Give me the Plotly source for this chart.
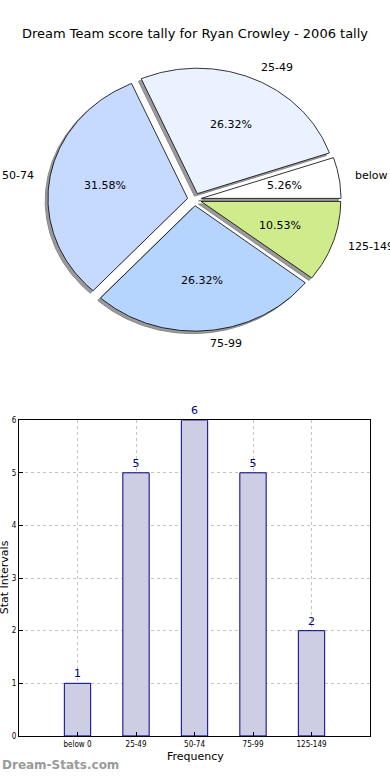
import numpy as np
import plotly.graph_objects as go

# ---- data ----
categories = ["below 0", "25-49", "50-74", "75-99", "125-149"]
counts = [1, 5, 6, 5, 2]
pie_colors = ["#FFFFFF", "#EBF2FF", "#C6D9FF", "#B5D5FF", "#CFEB8B"]
y_ticks = [0, 1, 2, 3, 4, 5, 6]
title_text = "Dream Team score tally for Ryan Crowley - 2006 tally"

W, H = 390, 780
FONT = "DejaVu Sans"


def fx(px):
    return px / W


def fy(py):
    return 1 - py / H


fig = go.Figure()

# ---- pie (elliptical, drawn on its own axes) ----
total = sum(counts)
explode = 0.05
shadow_off = (-0.02, -0.02)
theta = 0.0
wedges = []
for cat, c, col in zip(categories, counts, pie_colors):
    t1 = theta
    t2 = theta + 360.0 * c / total
    theta = t2
    mid = np.deg2rad((t1 + t2) / 2)
    ox, oy = explode * np.cos(mid), explode * np.sin(mid)
    angs = np.deg2rad(np.linspace(t1, t2, 120))
    xs = np.concatenate([[ox], ox + np.cos(angs), [ox]])
    ys = np.concatenate([[oy], oy + np.sin(angs), [oy]])
    wedges.append((cat, c, col, mid, ox, oy, xs, ys))

for cat, c, col, mid, ox, oy, xs, ys in wedges:
    fig.add_trace(go.Scatter(
        x=xs + shadow_off[0], y=ys + shadow_off[1], mode="lines", fill="toself",
        fillcolor="#9a9a9a", line=dict(color="#8a8a8a", width=1),
        xaxis="x2", yaxis="y2", hoverinfo="skip", showlegend=False))

for cat, c, col, mid, ox, oy, xs, ys in wedges:
    fig.add_trace(go.Scatter(
        x=xs, y=ys, mode="lines", fill="toself", fillcolor=col,
        line=dict(color="#000000", width=0.8), name=cat,
        xaxis="x2", yaxis="y2", showlegend=False))

annotations = []
for cat, c, col, mid, ox, oy, xs, ys in wedges:
    pct = 100.0 * c / total
    annotations.append(dict(
        x=ox + 0.6 * np.cos(mid), y=oy + 0.6 * np.sin(mid), xref="x2", yref="y2",
        text=f"{pct:.2f}%", showarrow=False, xanchor="center", yanchor="middle",
        font=dict(family=FONT, size=11, color="#000000")))
    lx = ox + 1.1 * np.cos(mid)
    ly = oy + 1.1 * np.sin(mid)
    annotations.append(dict(
        x=lx, y=ly, xref="x2", yref="y2", text=cat, showarrow=False,
        xanchor="left" if np.cos(mid) > 0 else "right", yanchor="middle",
        font=dict(family=FONT, size=11, color="#000000")))

# ---- bar chart ----
fig.add_trace(go.Bar(
    x=categories, y=counts, width=0.45,
    marker=dict(color="#CDCDE4", line=dict(color="#000080", width=1)),
    text=[str(v) for v in counts], textposition="outside",
    textfont=dict(family=FONT, size=11, color="#000080"),
    cliponaxis=False, showlegend=False, xaxis="x", yaxis="y"))

annotations += [
    dict(x=fx(195), y=fy(30), xref="paper", yref="paper", text=title_text,
         showarrow=False, xanchor="center", yanchor="middle",
         font=dict(family=FONT, size=13, color="#000000")),
    dict(x=fx(4), y=fy(580), xref="paper", yref="paper", text="Stat Intervals",
         showarrow=False, textangle=-90, xanchor="center", yanchor="middle",
         font=dict(family=FONT, size=11, color="#000000")),
    dict(x=fx(195), y=fy(761), xref="paper", yref="paper", text="Frequency",
         showarrow=False, xanchor="center", yanchor="middle",
         font=dict(family=FONT, size=11, color="#000000")),
    dict(x=fx(0), y=fy(770), xref="paper", yref="paper", text="<b>Dream-Stats.com</b>",
         showarrow=False, xanchor="left", yanchor="middle",
         font=dict(family=FONT, size=12, color="#9a9a9a")),
]

grid = dict(showgrid=True, gridcolor="#c4c4c4", griddash="dot", gridwidth=1)
tickfont = dict(family="DejaVu Sans Condensed, Liberation Sans Narrow, DejaVu Sans",
                size=8, color="black")

fig.update_layout(
    width=W, height=H,
    margin=dict(l=0, r=0, t=0, b=0),
    paper_bgcolor="white", plot_bgcolor="white",
    showlegend=False,
    annotations=annotations,
    xaxis=dict(domain=[fx(19), fx(370)], range=[-1, 5], type="category",
               categoryorder="array", categoryarray=categories,
               showline=True, mirror=True, linecolor="black", linewidth=1,
               ticks="inside", ticklen=4, tickcolor="black", tickfont=tickfont,
               zeroline=False, anchor="y", **grid),
    yaxis=dict(domain=[fy(740.5), fy(421)], range=[0, 6], tickvals=y_ticks,
               showline=True, mirror=True, linecolor="black", linewidth=1,
               ticks="inside", ticklen=4, tickcolor="black", tickfont=tickfont,
               zeroline=False, anchor="x", **grid),
    xaxis2=dict(domain=[fx(13), fx(376)], range=[-1.3, 1.3], visible=False,
                anchor="y2", fixedrange=True),
    yaxis2=dict(domain=[fy(362.7), fy(32.7)], range=[-1.3, 1.3], visible=False,
                anchor="x2", fixedrange=True),
)

fig.write_html(
    "out.html",
    config={"displayModeBar": False},
    post_script="document.body.style.margin='0';document.body.style.padding='0';"
                "document.body.style.overflow='hidden';",
)
